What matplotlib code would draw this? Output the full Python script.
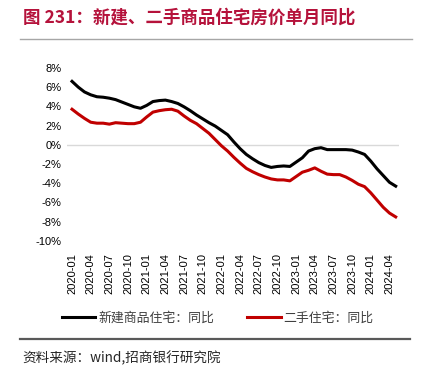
import numpy as np
import matplotlib
matplotlib.use('Agg')
from matplotlib import pyplot as plt
from matplotlib.lines import Line2D

plt.rcParams['font.family'] = ['Liberation Sans', 'Noto Sans CJK SC', 'DejaVu Sans']

# monthly data 2020-01 .. 2024-05
months = ['%d-%02d' % (2020 + i // 12, i % 12 + 1) for i in range(53)]

new_home = [6.6, 6.0, 5.5, 5.2, 5.0, 4.95, 4.85, 4.7, 4.45, 4.2,
            3.95, 3.8, 4.1, 4.5, 4.6, 4.65, 4.5, 4.3, 3.95, 3.55,
            3.1, 2.7, 2.3, 1.95, 1.5, 1.05, 0.3, -0.4, -1.0, -1.45,
            -1.85, -2.15, -2.35, -2.25, -2.2, -2.25, -1.8, -1.35, -0.65, -0.4,
            -0.3, -0.5, -0.5, -0.5, -0.5, -0.55, -0.75, -1.0, -1.7, -2.5,
            -3.2, -3.9, -4.3]

second_home = [3.7, 3.2, 2.75, 2.35, 2.25, 2.25, 2.15, 2.3, 2.25, 2.2,
               2.2, 2.35, 2.9, 3.4, 3.55, 3.65, 3.7, 3.5, 3.0, 2.55,
               2.2, 1.7, 1.2, 0.55, -0.1, -0.65, -1.3, -1.9, -2.45, -2.8,
               -3.1, -3.35, -3.55, -3.65, -3.65, -3.75, -3.3, -2.85, -2.65, -2.4,
               -2.75, -3.05, -3.1, -3.1, -3.35, -3.7, -4.1, -4.35, -5.0, -5.75,
               -6.5, -7.1, -7.5]

labels = ['新建商品住宅：同比', '二手住宅：同比']
title = '图 231：新建、二手商品住宅房价单月同比'
source = '资料来源：wind,招商银行研究院'

cjk = ['Noto Sans CJK SC', 'DejaVu Sans']

fig = plt.figure(figsize=(4.27, 3.69), dpi=100)
ax = fig.add_axes([0.157, 0.347, 0.777, 0.469])

x = np.arange(len(months))
ax.axhline(0, color='#d9d9d9', lw=1, zorder=1)
ax.plot(x, new_home, color='black', lw=2.2, zorder=3)
ax.plot(x, second_home, color='#c00000', lw=2.2, zorder=3)

ax.set_xlim(-0.8, 52.5)
ax.set_ylim(-10, 8)
ax.set_yticks(np.arange(-10, 9, 2))
ax.set_yticklabels(['%d%%' % v for v in range(-10, 9, 2)], fontsize=8)
ax.set_xticks(x[::3])
ax.set_xticklabels(months[::3], rotation=90, fontsize=8)
ax.tick_params(length=0, pad=4)
ax.tick_params(axis='x', pad=9)
for s in ax.spines.values():
    s.set_visible(False)

# title and rules
fig.text(23 / 427, 1 - 18 / 369, title, fontsize=12.6, fontweight='bold',
         color='#b5123b', va='center', ha='left', family=cjk)
fig.add_artist(Line2D([20 / 427, 412 / 427], [1 - 38.5 / 369] * 2,
                      color='#a6a6a6', lw=1))
fig.add_artist(Line2D([20 / 427, 410 / 427], [1 - 339 / 369] * 2,
                      color='#595959', lw=1.6))

# legend
leg = fig.legend([Line2D([], [], color='black', lw=2.2),
                  Line2D([], [], color='#c00000', lw=2.2)], labels,
                 loc='center', bbox_to_anchor=(0.51, 1 - 318 / 369), ncol=2,
                 frameon=False, handlelength=2.6,
                 handletextpad=0.2, columnspacing=2.6,
                 prop={'family': cjk, 'size': 9.3})
for t in leg.get_texts():
    t.set_color('#404040')

fig.text(22 / 427, 1 - 358 / 369, source, fontsize=9.8, va='center',
         ha='left', family=cjk, color='#262626')

fig.savefig('out.png', dpi=100)
